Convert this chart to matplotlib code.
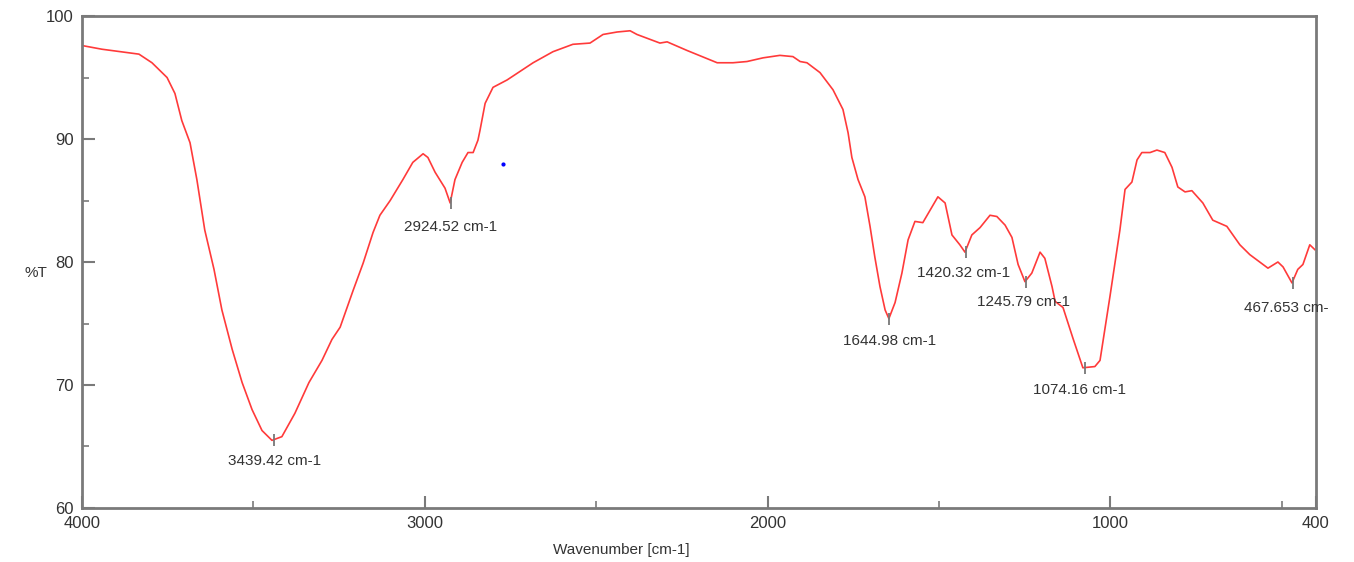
import matplotlib.pyplot as plt

# IR spectrum (wavenumber cm-1, %T)
wavenumber = [4000, 3942, 3834, 3796, 3752, 3729, 3709, 3685, 3665, 3642, 3615, 3592,
              3562, 3533, 3504, 3475, 3446, 3417, 3379, 3338, 3300, 3271, 3247, 3209,
              3180, 3151, 3131, 3101, 3064, 3035, 3005, 2991, 2970, 2941, 2926, 2912,
              2891, 2874, 2859, 2845, 2839, 2824, 2801, 2760, 2684, 2626, 2568, 2518,
              2480, 2439, 2401, 2381, 2352, 2314, 2293, 2235, 2147, 2101, 2060, 2013,
              1964, 1926, 1905, 1885, 1847, 1809, 1780, 1765, 1754, 1736, 1716, 1701,
              1687, 1672, 1657, 1646, 1628, 1608, 1590, 1570, 1547, 1526, 1503, 1482,
              1462, 1439, 1424, 1404, 1380, 1351, 1331, 1307, 1287, 1269, 1249, 1229,
              1205, 1191, 1170, 1161, 1138, 1109, 1080, 1045, 1030, 1001, 972, 957,
              937, 922, 908, 884, 864, 841, 820, 803, 782, 762, 730, 701,
              660, 622, 593, 540, 511, 496, 470, 453, 438, 418, 403]
transmittance = [97.6, 97.3, 96.9, 96.2, 95.0, 93.7, 91.5, 89.7, 86.7, 82.6, 79.4, 76.1,
                 72.9, 70.2, 68.0, 66.3, 65.5, 65.8, 67.7, 70.2, 72.0, 73.7, 74.7, 77.7,
                 79.9, 82.4, 83.8, 85.0, 86.7, 88.1, 88.8, 88.5, 87.3, 86.0, 84.8, 86.7,
                 88.1, 88.9, 88.9, 89.9, 90.7, 92.9, 94.2, 94.8, 96.2, 97.1, 97.7, 97.8,
                 98.5, 98.7, 98.8, 98.5, 98.2, 97.8, 97.9, 97.2, 96.2, 96.2, 96.3, 96.6,
                 96.8, 96.7, 96.3, 96.2, 95.4, 94.0, 92.4, 90.5, 88.5, 86.7, 85.3, 82.9,
                 80.4, 78.0, 76.1, 75.4, 76.7, 79.1, 81.8, 83.3, 83.2, 84.2, 85.3, 84.8,
                 82.2, 81.4, 80.8, 82.2, 82.8, 83.8, 83.7, 83.0, 82.0, 79.8, 78.4, 79.1,
                 80.8, 80.3, 78.0, 76.8, 76.3, 73.8, 71.4, 71.5, 72.0, 77.2, 82.6, 85.9,
                 86.5, 88.3, 88.9, 88.9, 89.1, 88.9, 87.7, 86.1, 85.7, 85.8, 84.8, 83.4,
                 82.9, 81.4, 80.6, 79.5, 80.0, 79.6, 78.3, 79.4, 79.8, 81.4, 81.0]

peak_wn = [3439.42, 2924.52, 1644.98, 1420.32, 1245.79, 1074.16, 467.653]
peak_t = [65.5, 84.8, 75.4, 80.8, 78.4, 71.4, 78.3]
peak_labels = ['3439.42 cm-1', '2924.52 cm-1', '1644.98 cm-1', '1420.32 cm-1',
               '1245.79 cm-1', '1074.16 cm-1', '467.653 cm-']
# label offsets in pixels (dx, dy)
label_offsets = [(0, -21), (0, -24), (0, -22), (-3, -21), (-3, -20), (-5, -22), (-7, -25)]

x_ticks = [4000, 3000, 2000, 1000, 400]
y_ticks = [60, 70, 80, 90, 100]

plt.rcParams['font.family'] = ['Liberation Sans', 'DejaVu Sans']
spine_col = '#7a7a7a'
text_col = '#333333'

fig = plt.figure(figsize=(13.54, 5.62), dpi=100)
ax = fig.add_axes([0.0606, 0.0961, 0.9113, 0.8754])

ax.plot(wavenumber, transmittance, color='#ff3a3a', lw=1.2)
ax.plot(peak_wn, peak_t, ls='none', marker='|', ms=9, mew=1.3, color='#777777')
for wn, t, lab, off in zip(peak_wn, peak_t, peak_labels, label_offsets):
    ax.annotate(lab, (wn, t), xytext=off, textcoords='offset pixels',
                ha='center', va='center', fontsize=11, color=text_col,
                annotation_clip=False)
ax.plot([2772], [88.0], ls='none', marker='o', ms=2, color='blue')

ax.set_xlim(4000, 400)
ax.set_ylim(60, 100)
ax.set_xticks(x_ticks)
ax.set_xticks([3500, 2500, 1500, 500], minor=True)
ax.set_yticks(y_ticks)
ax.set_yticks([65, 75, 85, 95], minor=True)
ax.tick_params(which='major', direction='in', length=9, width=1.5, color=spine_col,
               labelcolor=text_col, labelsize=12, pad=6)
ax.tick_params(which='minor', direction='in', length=5, width=1.2, color=spine_col)
for s in ax.spines.values():
    s.set_color(spine_col)
    s.set_linewidth(2)

fig.text(0.018, 0.515, '%T', fontsize=11, color=text_col, va='center')
fig.text(0.459, 0.022, 'Wavenumber [cm-1]', fontsize=11, color=text_col, ha='center', va='center')

fig.savefig('out.png', dpi=100)
